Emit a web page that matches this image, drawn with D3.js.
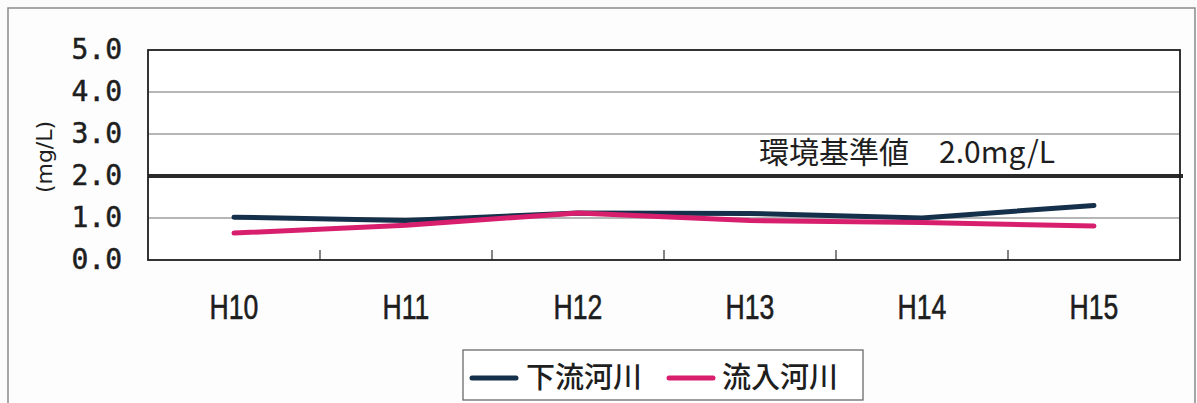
<!DOCTYPE html>
<html>
<head>
<meta charset="utf-8">
<script src="https://cdn.jsdelivr.net/npm/d3@7"></script>
<style>
  html, body { margin: 0; padding: 0; background: #fbfbfb; }
  svg { display: block; }
</style>
</head>
<body>
<svg id="chart" width="1197" height="403"></svg>
<script>
// Fiscal years (Heisei era)
const years = ["H10", "H11", "H12", "H13", "H14", "H15"];
// Downstream river concentration (mg/L)
const downstream = [1.02, 0.94, 1.12, 1.11, 1.00, 1.30];
// Inflow river concentration (mg/L)
const inflow = [0.64, 0.83, 1.12, 0.94, 0.89, 0.81];
// Y-axis ticks and environmental standard
const yTicks = [0, 1, 2, 3, 4, 5];
const standardValue = 2.0;
const seriesNames = ["下流河川", "流入河川"];
const seriesColors = ["#15304a", "#d81f6e"];

const svg = d3.select("#chart");
const plot = { left: 148, right: 1180, top: 50, bottom: 260 };

// outer frame
svg.append("rect")
  .attr("x", 8).attr("y", 8)
  .attr("width", 1187).attr("height", 410)
  .attr("fill", "#fdfdfd")
  .attr("stroke", "#8a8a8a").attr("stroke-width", 1.5);

const x = d3.scaleBand().domain(years).range([plot.left, plot.right]);
const y = d3.scaleLinear().domain([0, 5]).range([plot.bottom, plot.top]);

// plot background
svg.append("rect")
  .attr("x", plot.left).attr("y", plot.top)
  .attr("width", plot.right - plot.left).attr("height", plot.bottom - plot.top)
  .attr("fill", "#ffffff");

// horizontal gridlines
svg.append("g").selectAll("line")
  .data(yTicks.filter(v => v > 0 && v < 5 && v !== standardValue))
  .join("line")
  .attr("x1", plot.left).attr("x2", plot.right)
  .attr("y1", d => y(d)).attr("y2", d => y(d))
  .attr("stroke", "#6e6e6e").attr("stroke-width", 1.2);

// environmental standard line
svg.append("line")
  .attr("x1", plot.left).attr("x2", plot.right + 3)
  .attr("y1", y(standardValue)).attr("y2", y(standardValue))
  .attr("stroke", "#2a2a2a").attr("stroke-width", 4);

svg.append("text")
  .attr("x", 759).attr("y", 163)
  .attr("font-family", "'Noto Sans CJK JP', sans-serif")
  .attr("font-size", 30)
  .attr("fill", "#1e1e1e")
  .text("環境基準値　2.0mg/L");

// x-axis (ticks inside, on band boundaries)
const xAxis = svg.append("g")
  .attr("transform", `translate(0,${plot.bottom})`);
xAxis.selectAll("line.tick")
  .data(years.slice(1))
  .join("line")
  .attr("class", "tick")
  .attr("x1", d => x(d)).attr("x2", d => x(d))
  .attr("y1", 0).attr("y2", -10)
  .attr("stroke", "#333").attr("stroke-width", 1.2);
xAxis.selectAll("text")
  .data(years)
  .join("text")
  .attr("transform", d => `translate(${x(d) + x.bandwidth() / 2},59) scale(0.76,1)`)
  .attr("text-anchor", "middle")
  .attr("font-family", "'Liberation Sans', sans-serif")
  .attr("font-size", 35)
  .attr("fill", "#1e1e1e")
  .attr("stroke", "#1e1e1e").attr("stroke-width", 0.6)
  .text(d => d);

// y-axis labels
const yAxis = d3.axisLeft(y).tickValues(yTicks).tickFormat(d3.format(".1f")).tickSize(0).tickPadding(26);
const yg = svg.append("g").attr("transform", `translate(${plot.left},0)`).call(yAxis);
yg.select(".domain").remove();
yg.selectAll("text")
  .attr("font-family", "'DejaVu Sans Mono', monospace")
  .attr("font-size", 28)
  .attr("fill", "#1e1e1e")
  .attr("stroke", "#1e1e1e").attr("stroke-width", 0.5);

svg.append("text")
  .attr("transform", `translate(52,157) rotate(-90)`)
  .attr("text-anchor", "middle")
  .attr("font-family", "'DejaVu Sans', sans-serif")
  .attr("font-size", 22)
  .attr("fill", "#1e1e1e")
  .text("(mg/L)");

// plot frame
svg.append("rect")
  .attr("x", plot.left).attr("y", plot.top)
  .attr("width", plot.right - plot.left).attr("height", plot.bottom - plot.top)
  .attr("fill", "none")
  .attr("stroke", "#1e1e1e").attr("stroke-width", 1.8);

// series lines
const line = d3.line()
  .x((d, i) => x(years[i]) + x.bandwidth() / 2)
  .y(d => y(d));

[downstream, inflow].forEach((vals, i) => {
  svg.append("path")
    .datum(vals)
    .attr("d", line)
    .attr("fill", "none")
    .attr("stroke", seriesColors[i])
    .attr("stroke-width", 5)
    .attr("stroke-linecap", "round")
    .attr("stroke-linejoin", "round");
});

// legend
const legend = svg.append("g");
legend.append("rect")
  .attr("x", 463).attr("y", 350)
  .attr("width", 400).attr("height", 50)
  .attr("fill", "#ffffff")
  .attr("stroke", "#6a6a6a").attr("stroke-width", 1.3);

const legendItems = [
  { lx: 472, tx: 526 },
  { lx: 669, tx: 722 }
];
legendItems.forEach((it, i) => {
  legend.append("line")
    .attr("x1", it.lx).attr("x2", it.lx + 44)
    .attr("y1", 378).attr("y2", 378)
    .attr("stroke", seriesColors[i]).attr("stroke-width", 5)
    .attr("stroke-linecap", "round");
  legend.append("text")
    .attr("x", it.tx).attr("y", 388)
    .attr("font-family", "'Noto Sans CJK JP', sans-serif")
    .attr("font-size", 29)
    .attr("font-weight", 500)
    .attr("fill", "#1e1e1e")
    .text(seriesNames[i]);
});
</script>
</body>
</html>
